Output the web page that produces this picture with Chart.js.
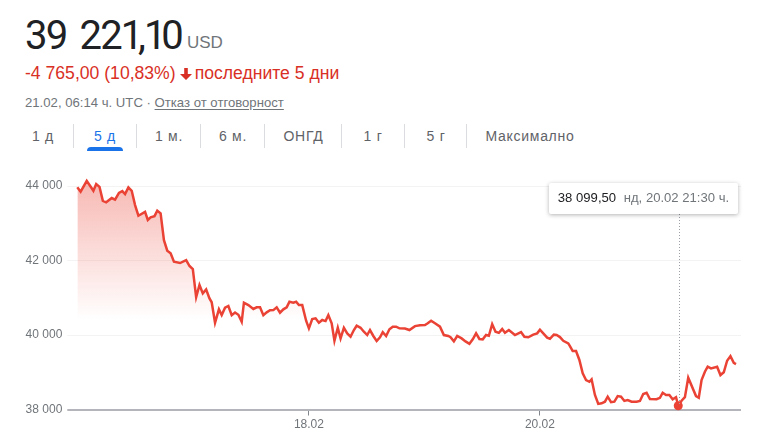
<!DOCTYPE html>
<html lang="bg">
<head>
<meta charset="utf-8">
<title>39 221,10 USD</title>
<script src="https://cdn.jsdelivr.net/npm/chart.js@4"></script>
<style>
  html, body { margin: 0; padding: 0; background: #fff; width: 772px; height: 437px; overflow: hidden; }
  body { position: relative; font-family: "Liberation Sans", Arial, sans-serif; }
  .abs { position: absolute; white-space: nowrap; }
  #price { left: 25px; top: 12px; font: 400 40px Roboto, sans-serif; letter-spacing: -1.8px; word-spacing: 5px; color: #202124; line-height: 48px; }
  #price span { letter-spacing: -5.4px; }
  #currency { left: 187px; top: 33px; font-size: 17px; color: #70757a; line-height: 20px; }
  #change { left: 25px; top: 63px; font-size: 17.6px; color: #d93025; line-height: 20px; }
  #change svg { vertical-align: -1px; margin: 0 3px 0 4px; }
  #stamp { left: 25px; top: 95px; font-size: 13.15px; color: #70757a; line-height: 15px; }
  #stamp u { text-underline-offset: 2px; }
  .tab { top: 127px; font-size: 14px; letter-spacing: .7px; color: #5f6368; line-height: 18px; transform: translateX(-50%); }
  .tab.on { color: #1a73e8; }
  .sep { top: 124px; width: 1px; height: 24px; background: #dadce0; }
  #underline { left: 87px; top: 147px; width: 36px; height: 4px; background: #1a73e8; border-radius: 4px 4px 0 0; }
  #chartBox { left: 0; top: 165px; width: 772px; height: 272px; }
  #tip { left: 549px; top: 183px; width: 189px; height: 31px; background: #fff; border-radius: 2px; box-shadow: 0 1px 4px rgba(0,0,0,.3); font-size: 13.1px; line-height: 30px; color: #70757a; text-align: center; }
  #tip b { font-weight: 400; color: #202124; margin-right: 4px; }
</style>
</head>
<body>
<div class="abs" id="price">39 22<span>1</span>,<span>1</span>0</div>
<div class="abs" id="currency">USD</div>
<div class="abs" id="change">-4 765,00 (10,83%)<svg width="12" height="12" viewBox="0 0 12 12"><path d="M4.2 0h3.6v6H12L6 12 0 6h4.2z" fill="#d93025"/></svg>последните 5 дни</div>
<div class="abs" id="stamp">21.02, 06:14 ч. UTC · <u>Отказ от отговорност</u></div>
<div id="tabs"></div>
<div class="abs" id="underline"></div>
<div class="abs" id="chartBox"><canvas id="chart" width="772" height="272"></canvas></div>
<div class="abs" id="tip"><b>38 099,50</b> нд, 20.02 21:30 ч.</div>

<script>
// ranges above the chart
const tabLabels = ['1 д', '5 д', '1 м.', '6 м.', 'ОНГД', '1 г', '5 г', 'Максимално'];
const tabCenters = [43, 105, 169, 233, 303.5, 373, 436, 530];
const tabSeps = [73, 136, 200, 264, 341, 404, 466];

// hours since the start of the 5 day window
const hours = [
  0, 0.6, 1.7, 2.9, 3.4, 4.0, 4.6, 5.2, 6.2, 6.8, 7.5, 8.1, 8.6, 9.2, 9.8, 10.4, 11.0, 12.2, 12.7, 13.2,
  13.9, 14.4, 15.0, 15.6, 16.2, 16.8, 17.4, 18.5, 19.6, 20.2, 20.8, 21.4, 22.0, 22.6, 23.2, 23.8, 24.2, 24.8, 25.5, 26.0,
  26.6, 27.2, 27.8, 28.4, 29.0, 29.6, 30.0, 30.8, 31.7, 32.3, 32.9, 33.5, 34.1, 34.7, 35.3, 35.9, 36.5, 37.1, 37.7, 38.2,
  38.9, 39.4, 39.9, 40.5, 41.2, 41.7, 42.3, 42.9, 43.5, 44.1, 44.7, 45.2, 45.8, 46.3, 46.9, 47.4, 48.0, 48.6, 49.2, 49.8,
  50.3, 51.0, 51.6, 52.2, 52.7, 53.3, 53.9, 54.5, 55.0, 55.6, 56.2, 56.8, 57.4, 58.0, 59.0, 59.8, 60.8, 61.7, 62.6, 63.1,
  63.7, 64.4, 65.3, 66.0, 66.8, 67.2, 67.8, 68.4, 69.2, 69.9, 70.6, 71.2, 71.8, 72.4, 73.0, 73.6, 74.1, 74.7, 75.3, 75.9,
  76.5, 77.0, 77.7, 78.8, 79.9, 80.5, 81.2, 82.1, 82.8, 83.3, 83.9, 84.6, 85.1, 85.8, 86.3, 86.9, 87.5, 88.4, 88.7, 89.2,
  89.8, 90.4, 91.0, 91.6, 92.2, 92.6, 93.2, 93.8, 94.4, 95.0, 95.5, 96.1, 96.7, 97.3, 97.9, 98.5, 99.1, 99.8, 100.7, 101.3,
  101.9, 102.5, 103.1, 104.3, 104.9, 105.4, 106.0, 106.6, 107.2, 107.8, 108.2, 108.8, 109.4, 110.0, 111.4, 111.9, 112.4, 113.0, 113.5, 114.1,
  115.2, 115.8, 116.4, 117.0, 117.6, 118.2, 118.6
];
const prices = [
  43970, 43850, 44140, 43875, 44055, 43980, 43605, 43565, 43680, 43635, 43820, 43865, 43785, 43965, 43875, 43490, 43205, 43310, 43090, 43160,
  43195, 43340, 43270, 42550, 42265, 42195, 41970, 41935, 42015, 41855, 41770, 41015, 41345, 41120, 41225, 40985, 40880, 40330, 40690, 40535,
  40735, 40780, 40535, 40605, 40545, 40355, 40870, 40805, 40700, 40745, 40745, 40535, 40610, 40665, 40670, 40745, 40600, 40690, 40745, 40895,
  40870, 40895, 40805, 40805, 40385, 40180, 40430, 40450, 40330, 40405, 40375, 40535, 40315, 39845, 40195, 39910, 40195, 40045, 39955, 40135,
  40250, 40195, 40090, 40000, 40135, 39975, 39840, 39940, 40075, 39975, 40155, 40225, 40225, 40180, 40175, 40135, 40240, 40260, 40270, 40315,
  40385, 40315, 40225, 40000, 39975, 39940, 39830, 39975, 39910, 39830, 39765, 39885, 40045, 39895, 39885, 40000, 39980, 40290, 40090, 40060,
  40160, 40060, 40135, 40000, 40080, 39955, 39940, 40010, 40045, 40145, 40045, 39930, 39900, 40010, 40000, 39945, 39845, 39775, 39705, 39570,
  39570, 39330, 38970, 38790, 38745, 38810, 38390, 38150, 38165, 38210, 38345, 38200, 38210, 38360, 38345, 38230, 38255, 38210, 38210, 38230,
  38415, 38450, 38280, 38275, 38315, 38450, 38390, 38390, 38275, 38330, 38100, 38235, 38330, 38855, 38360, 38315, 38790, 39015, 39150, 39105,
  39150, 38925, 39000, 39310, 39435, 39255, 39221
];
const markedHour = 108.2;

const yTicks = [38000, 40000, 42000, 44000];
const xTickHours = [41.7, 83.3];
const xTickLabels = ['18.02', '20.02'];

const RED = '#ea4335';

// header tabs
const tabs = document.getElementById('tabs');
tabLabels.forEach((label, i) => {
  const el = document.createElement('div');
  el.className = 'abs tab' + (i === 1 ? ' on' : '');
  el.style.left = tabCenters[i] + 'px';
  el.textContent = label;
  tabs.appendChild(el);
});
tabSeps.forEach(x => {
  const el = document.createElement('div');
  el.className = 'abs sep';
  el.style.left = x + 'px';
  tabs.appendChild(el);
});

function fmt(v) {
  return String(v).replace(/\B(?=(\d{3})+$)/g, ' ');
}

// dotted line from the tooltip down to the marked point
const markerLine = {
  id: 'markerLine',
  afterDatasetsDraw(chart) {
    const { ctx, scales } = chart;
    const x = Math.round(scales.x.getPixelForValue(markedHour)) + 1.5;
    const y = scales.y.getPixelForValue(prices[hours.indexOf(markedHour)]);
    ctx.save();
    ctx.strokeStyle = '#9aa0a6';
    ctx.lineWidth = 1;
    ctx.setLineDash([1, 2]);
    ctx.beginPath();
    ctx.moveTo(x, 49);
    ctx.lineTo(x, y);
    ctx.stroke();
    ctx.restore();
  }
};

new Chart(document.getElementById('chart'), {
  type: 'line',
  data: {
    datasets: [{
      data: hours.map((h, i) => ({ x: h, y: prices[i] })),
      borderColor: RED,
      borderWidth: 2.5,
      tension: 0,
      clip: false,
      fill: 'start',
      backgroundColor(c) {
        const { chart } = c;
        if (!chart.chartArea) return 'transparent';
        const g = chart.ctx.createLinearGradient(0, 15, 0, 155);
        g.addColorStop(0, 'rgba(234,67,53,.38)');
        g.addColorStop(1, 'rgba(234,67,53,0)');
        return g;
      },
      pointRadius: c => (hours[c.dataIndex] === markedHour ? 4.5 : 0),
      pointBackgroundColor: RED,
      pointBorderWidth: 0
    }]
  },
  options: {
    responsive: false,
    animation: false,
    events: [],
    layout: { padding: { top: 0, right: 31, bottom: 0, left: 0 } },
    plugins: { legend: { display: false }, tooltip: { enabled: false } },
    scales: {
      x: {
        type: 'linear',
        min: 0,
        max: 119.5,
        afterBuildTicks(axis) { axis.ticks = xTickHours.map(v => ({ value: v })); },
        afterFit(axis) { axis.height = 27.5; },
        border: { display: false },
        grid: { drawOnChartArea: false, tickLength: 6, tickColor: '#80868b' },
        ticks: {
          autoSkip: false,
          maxRotation: 0,
          padding: 2,
          color: '#70757a',
          font: { family: 'Liberation Sans', size: 12 },
          callback(v) { return xTickLabels[xTickHours.indexOf(v)]; }
        }
      },
      y: {
        min: 38000,
        max: 44240,
        afterBuildTicks(axis) { axis.ticks = yTicks.map(v => ({ value: v })); },
        afterFit(axis) { axis.width = 77.3; },
        border: { display: false },
        grid: {
          tickLength: 10,
          color: c => (c.tick.value === 38000 ? '#b4b4bb' : '#f3f3f3'),
          lineWidth: c => (c.tick.value === 38000 ? 2 : 1)
        },
        ticks: {
          padding: 5,
          color: '#70757a',
          font: { family: 'Liberation Sans', size: 12 },
          callback: v => fmt(v)
        }
      }
    }
  },
  plugins: [markerLine]
});
</script>
</body>
</html>
